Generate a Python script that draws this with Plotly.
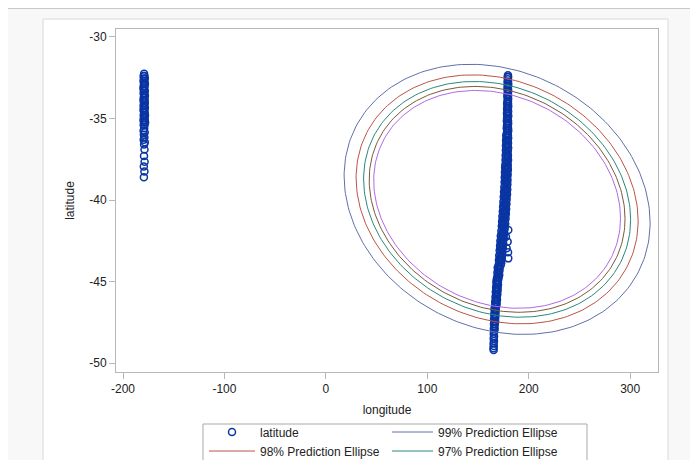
import numpy as np
import plotly.graph_objects as go

# ---------------- data ----------------
# main cluster (New Zealand region), longitude / latitude of each plotted point
nz_lat = [
    -32.35, -32.45, -32.45, -32.6, -32.75, -32.75, -32.9, -32.9, -33.05, -33.05,
    -33.2, -33.2, -33.35, -33.35, -33.5, -33.5, -33.65, -33.65, -33.8, -33.8,
    -33.95, -33.95,
    -34.1, -34.1, -34.25, -34.25, -34.4, -34.4, -34.55, -34.55, -34.7, -34.7,
    -34.85, -34.85, -35.0, -35.0, -35.15, -35.15, -35.3, -35.3, -35.45, -35.45,
    -35.6, -35.6, -35.75, -35.75, -35.9, -35.9,
    -36.05, -36.05, -36.2, -36.2, -36.35, -36.35, -36.5, -36.5, -36.65, -36.65,
    -36.8, -36.8, -36.95, -36.95, -37.1, -37.1, -37.25, -37.25, -37.4, -37.4,
    -37.55, -37.55, -37.7, -37.7, -37.85, -37.85,
    -38.0, -38.0, -38.0, -38.15, -38.15, -38.3, -38.3, -38.45, -38.45, -38.45,
    -38.6, -38.6, -38.75, -38.75, -38.9, -38.9, -38.9, -39.05, -39.05, -39.2,
    -39.2, -39.35, -39.35, -39.35,
    -39.5, -39.5, -39.65, -39.65, -39.8, -39.8, -39.8, -39.95, -39.95, -40.1,
    -40.1, -40.25, -40.25, -40.25, -40.4, -40.4, -40.55, -40.55, -40.7, -40.7,
    -40.7, -40.85, -40.85,
    -41.0, -41.0, -41.15, -41.15, -41.15, -41.3, -41.3, -41.45, -41.45, -41.6,
    -41.6, -41.6, -41.75, -41.75, -41.9, -41.9, -42.05, -42.05, -42.05,
    -42.2, -42.2, -42.35, -42.35, -42.5, -42.5, -42.5, -42.65, -42.65, -42.8,
    -42.8, -42.95, -42.95, -42.95, -43.1, -43.1, -43.25, -43.25, -43.4, -43.4,
    -43.55, -43.55, -43.55, -43.7, -43.7, -43.85, -43.85, -44.0, -44.0,
    -44.15, -44.15, -44.3, -44.3, -44.45, -44.45, -44.6, -44.6, -44.6, -44.75,
    -44.75, -44.9, -44.9,
    -45.05, -45.05, -45.2, -45.2, -45.35, -45.35, -45.5, -45.5, -45.5, -45.65,
    -45.65, -45.8, -45.8, -45.95, -45.95, -46.1, -46.1, -46.25, -46.25, -46.4,
    -46.4, -46.55, -46.55,
    -46.7, -46.7, -46.85, -46.85, -47.0, -47.0, -47.15, -47.15, -47.3, -47.3,
    -47.45, -47.45, -47.6, -47.6, -47.75, -47.9, -47.9,
    -48.05, -48.2, -48.35, -48.5, -48.65, -48.8, -48.95, -49.1, -49.2,
    -41.84, -42.25, -42.56, -42.96, -43.2, -43.58,
]
nz_lon = [
    179.5, 179.2, 179.7, 179.4, 179.1, 179.6, 179.3, 179.8, 179.2, 179.5,
    179.0, 179.6, 179.4, 179.7, 179.1, 179.5, 178.9, 179.6, 179.3, 179.7,
    179.0, 179.5,
    178.7, 179.6, 179.0, 179.8, 178.6, 179.4, 178.9, 179.7, 178.5, 179.5,
    178.8, 179.8, 178.6, 179.3, 178.4, 179.6, 178.9, 179.7, 178.5, 179.4,
    178.3, 179.6, 178.7, 179.8, 178.4, 179.3,
    177.8, 179.5, 178.2, 179.7, 177.6, 179.3, 178.0, 179.6, 177.5, 179.2,
    177.9, 179.7, 177.4, 179.4, 177.7, 179.0, 177.2, 179.5, 177.6, 179.2,
    177.1, 179.6, 177.5, 178.9, 176.9, 179.3,
    176.7, 179.1, 178.0, 177.2, 179.4, 176.5, 178.8, 176.9, 179.2, 177.9,
    176.3, 178.6, 176.8, 179.0, 176.2, 178.7, 177.5, 176.6, 178.9, 175.9,
    178.4, 176.4, 178.8, 177.3,
    175.6, 178.3, 176.1, 178.6, 175.3, 177.9, 176.7, 175.8, 178.2, 175.0,
    177.6, 175.5, 178.0, 176.3, 174.7, 177.3, 175.2, 177.7, 174.4, 177.0,
    175.8, 174.8, 177.4,
    174.0, 176.8, 174.5, 177.1, 175.5, 173.7, 176.4, 174.2, 176.8, 173.4,
    176.0, 174.9, 173.9, 176.3, 173.0, 175.7, 173.5, 175.9, 174.6,
    172.4, 175.0, 172.9, 175.2, 172.0, 174.6, 173.3, 172.5, 174.8, 171.7,
    174.2, 172.2, 174.4, 172.9, 171.3, 173.7, 171.8, 173.9, 170.9, 173.2,
    171.4, 173.4, 172.3, 170.6, 172.7, 171.0, 172.9, 170.2, 172.3,
    169.4, 171.1, 169.8, 171.2, 169.1, 170.7, 169.5, 170.9, 170.1, 168.8,
    170.3, 168.3, 169.8,
    168.1, 169.5, 168.4, 169.7, 167.8, 169.2, 168.1, 169.3, 168.7, 167.5,
    168.9, 167.8, 169.0, 167.2, 168.5, 167.5, 168.7, 166.9, 168.2, 167.2,
    168.3, 166.6, 167.8,
    166.2, 167.4, 166.5, 167.3, 166.0, 167.0, 166.3, 167.1, 165.8, 166.8,
    166.1, 166.9, 165.7, 166.6, 166.0, 165.6, 166.4,
    165.9, 165.5, 165.8, 165.4, 165.7, 165.3, 165.5, 165.2, 165.4,
    179.8, 177.5, 179.2, 178.2, 179.6, 179.8,
]
# points just across the date line
dl_lat = [
    -32.25, -32.4, -32.4, -32.55, -32.55, -32.7, -32.7, -32.85, -32.85, -33.0,
    -33.0, -33.15, -33.15, -33.3, -33.3, -33.45, -33.45, -33.6, -33.6, -33.75,
    -33.75, -33.9, -33.9, -34.05, -34.05, -34.2, -34.2, -34.35, -34.35, -34.5,
    -34.5, -34.65, -34.65, -34.8, -34.8, -34.95, -34.95, -35.1, -35.1, -35.25,
    -35.25, -35.4, -35.4,
    -35.6, -35.75, -35.85, -36.0, -36.15, -36.3, -36.45, -36.6, -36.9,
    -37.3, -37.65, -37.95, -38.25, -38.6,
]
dl_lon = [
    -179.2, -179.7, -178.8, -179.4, -178.5, -179.8, -178.9, -179.3, -178.4, -179.6,
    -178.7, -179.9, -179.0, -179.4, -178.5, -179.7, -178.8, -179.2, -178.4, -179.6,
    -178.9, -179.8, -178.6, -179.3, -178.5, -179.7, -178.8, -179.5, -178.4, -179.8,
    -178.9, -179.2, -178.6, -179.6, -178.3, -179.4, -178.7, -179.8, -178.5, -179.3,
    -178.2, -179.6, -178.8,
    -179.1, -179.7, -178.6, -179.4, -178.9, -179.6, -178.5, -179.2, -178.8,
    -179.3, -178.7, -179.5, -178.9, -179.4,
]
longitude = nz_lon + dl_lon
latitude = nz_lat + dl_lat

# prediction-ellipse statistics
ellipse_levels = [0.99, 0.98, 0.97, 0.96, 0.95]
ellipse_names = ["99% Prediction Ellipse", "98% Prediction Ellipse",
                 "97% Prediction Ellipse", "96% Prediction Ellipse",
                 "95% Prediction Ellipse"]
mean_lon, mean_lat = 168.8, -39.96
sd_lon, sd_lat = 49.7, 2.73
corr_lonlat = -0.173

x_ticks = [-200, -100, 0, 100, 200, 300]
x_tick_labels = ["-200", "-100", "0", "100", "200", "300"]
y_ticks = [-50, -45, -40, -35, -30]
y_tick_labels = ["-50", "-45", "-40", "-35", "-30"]

# ---------------- styling ----------------
OFF = 8                      # page body margin of the html page
W, H = 698 - OFF, 460 - OFF  # visible figure size
ML, MR, MT, MB = 108, 40, 21, 88
PW, PH = W - ML - MR, H - MT - MB
FONT = "Liberation Sans, Arial, sans-serif"
ell_colors = ["#6170AA", "#BA5547", "#2A887B", "#7A5A38", "#B169E6"]
ell_legend = ["legend2", "legend", "legend2", "legend", "legend2"]
ell_show = [True, True, True, False, False]


def xp(px):  # window pixel -> paper
    return (px - OFF - ML) / PW


def yp(py):
    return (H - MB - (py - OFF)) / PH


fig = go.Figure()
fig.add_trace(go.Scatter(
    x=longitude, y=latitude, mode="markers", name="latitude",
    marker=dict(symbol="circle-open", size=7, color="#0A35A3",
                line=dict(width=1.5, color="#0A35A3")),
    legend="legend",
))

# ellipse construction from mean / covariance
t = np.linspace(0, 2 * np.pi, 241)
l00 = sd_lon
l10 = corr_lonlat * sd_lat
l11 = sd_lat * np.sqrt(1 - corr_lonlat ** 2)
for lvl, name, col, lg, sh in zip(ellipse_levels, ellipse_names, ell_colors,
                                  ell_legend, ell_show):
    c = np.sqrt(-2 * np.log(1 - lvl))
    ex = mean_lon + c * l00 * np.cos(t)
    ey = mean_lat + c * (l10 * np.cos(t) + l11 * np.sin(t))
    fig.add_trace(go.Scatter(x=ex, y=ey, mode="lines", name=name,
                             line=dict(color=col, width=1), legend=lg,
                             showlegend=sh))

axis_common = dict(showline=True, mirror=True, linecolor="#B4B8BC", linewidth=1,
                   ticks="outside", ticklen=6, tickcolor="#B4B8BC", tickwidth=1,
                   showgrid=False, zeroline=False,
                   tickfont=dict(family=FONT, size=12, color="#222"))

LEG_TOP = 417.5
fig.update_layout(
    width=W, height=H,
    margin=dict(l=ML, r=MR, t=MT, b=MB, autoexpand=False),
    paper_bgcolor="#F8F8F8", plot_bgcolor="white",
    font=dict(family=FONT, size=12, color="#222"),
    xaxis=dict(range=[-206.9, 327.4], tickvals=x_ticks, ticktext=x_tick_labels,
               title=dict(text="longitude", standoff=10,
                          font=dict(family=FONT, size=12, color="#222")),
               **axis_common),
    yaxis=dict(range=[-50.55, -29.51], tickvals=y_ticks, ticktext=y_tick_labels,
               title=dict(text="latitude", standoff=12,
                          font=dict(family=FONT, size=12, color="#222")),
               **axis_common),
    legend=dict(x=xp(204), y=yp(LEG_TOP), xanchor="left", yanchor="top",
                orientation="v", itemwidth=46, borderwidth=0,
                bgcolor="rgba(0,0,0,0)", tracegroupgap=0,
                font=dict(family=FONT, size=12, color="#222")),
    legend2=dict(x=xp(387), y=yp(LEG_TOP), xanchor="left", yanchor="top",
                 orientation="v", itemwidth=41, borderwidth=0,
                 bgcolor="rgba(0,0,0,0)", tracegroupgap=0,
                 font=dict(family=FONT, size=12, color="#222")),
    shapes=[
        # separator line at top of page
        dict(type="line", xref="paper", yref="paper", x0=xp(0), x1=xp(710),
             y0=yp(8.5), y1=yp(8.5), line=dict(color="#C8C8C8", width=1),
             layer="below"),
        # white panel behind the graph
        dict(type="rect", xref="paper", yref="paper", x0=xp(43), x1=xp(668),
             y0=yp(480), y1=yp(19), fillcolor="white",
             line=dict(color="#DADADA", width=1), layer="below"),
        # legend frame
        dict(type="rect", xref="paper", yref="paper", x0=xp(203), x1=xp(587),
             y0=yp(490), y1=yp(424), fillcolor="rgba(0,0,0,0)",
             line=dict(color="#A9A9A9", width=1), layer="above"),
    ],
)

fig.write_html("out.html")
